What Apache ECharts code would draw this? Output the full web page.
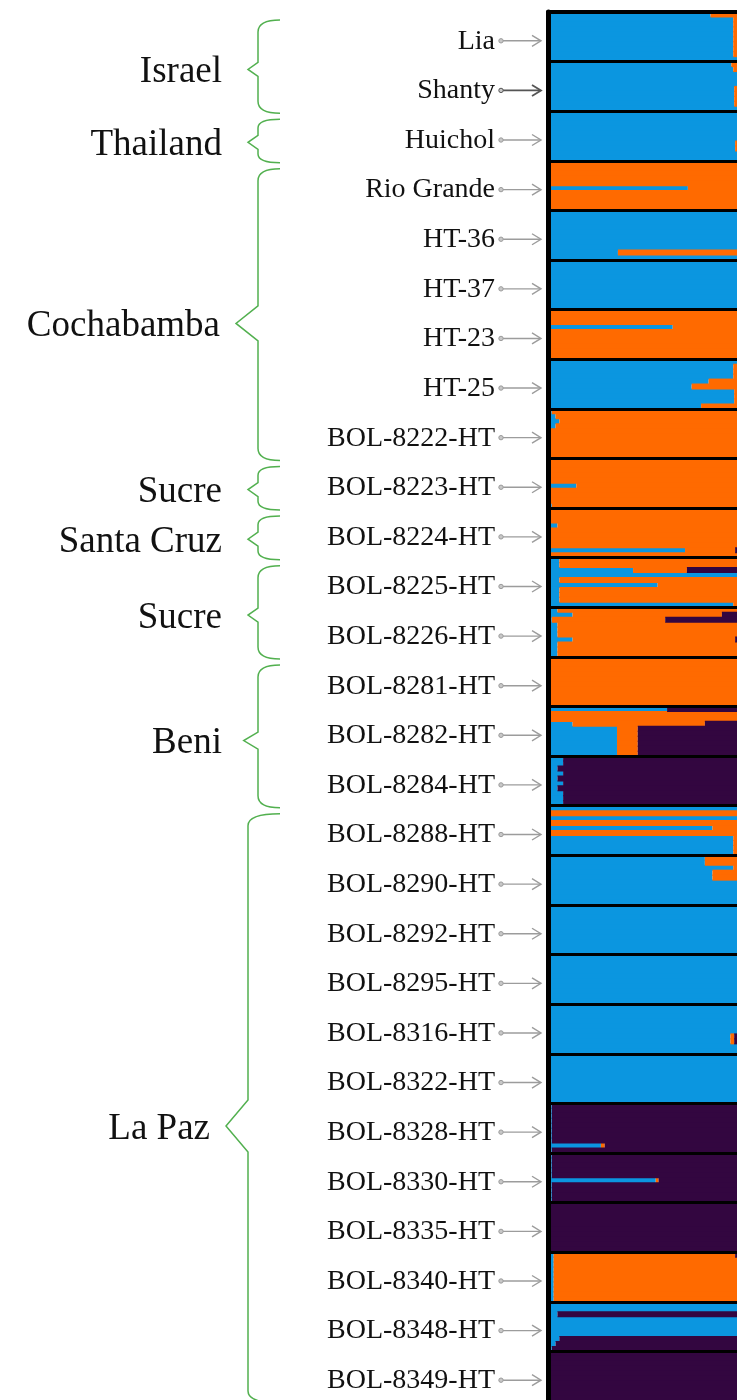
<!DOCTYPE html>
<html><head><meta charset="utf-8">
<script src="https://cdn.jsdelivr.net/npm/echarts@6/dist/echarts.min.js"></script>
<style>html,body{margin:0;padding:0;background:#fff}#c{width:737px;height:1400px}</style>
</head><body><div id="c"></div>
<script>
// ---- data ----
const genotypes = ['Lia','Shanty','Huichol','Rio Grande','HT-36','HT-37','HT-23','HT-25',
  'BOL-8222-HT','BOL-8223-HT','BOL-8224-HT','BOL-8225-HT','BOL-8226-HT','BOL-8281-HT',
  'BOL-8282-HT','BOL-8284-HT','BOL-8288-HT','BOL-8290-HT','BOL-8292-HT','BOL-8295-HT',
  'BOL-8316-HT','BOL-8322-HT','BOL-8328-HT','BOL-8330-HT','BOL-8335-HT','BOL-8340-HT',
  'BOL-8348-HT','BOL-8349-HT'];
const regions = ['Israel','Thailand','Cochabamba','Sucre','Santa Cruz','Sucre','Beni','La Paz'];
const regionStart = [0,2,3,9,10,11,13,16];
const regionEnd   = [1,2,8,9,10,12,15,27];

// membership shares (visible part of each bar), 10 individuals per genotype
const blue = [
  [.86,.98,.98,.98,.98,.98,.98,.98,.98,1],
  [.97,.98,1,1,1,.985,.985,.985,.985,1],
  [1,1,1,1,1,1,.99,.99,1,1],
  [.01,.01,.01,.01,.01,.74,.01,.01,.01,.01],
  [1,1,1,1,1,1,1,1,.37,1],
  [1,1,1,1,1,1,1,1,1,1],
  [0,0,0,.66,0,0,0,0,0,0],
  [1,.98,.98,.98,.85,.76,.985,.985,.985,.81],
  [.02,.04,.06,.04,.015,.015,.015,.015,.015,.015],
  [.015,.015,.015,.015,.015,.15,.015,.015,.015,.02],
  [.015,.015,.015,.05,.015,.015,.015,.015,.725,.015],
  [.06,.06,.45,1,.06,.58,.06,.06,.06,.98],
  [.05,.13,.02,.05,.05,.05,.13,.05,.05,.05],
  [.01,.01,.01,.01,.01,.01,.01,.01,.01,.01],
  [.63,.01,.01,.13,.365,.365,.365,.365,.365,.365],
  [.08,.08,.05,.08,.05,.08,.05,.08,.08,.08],
  [1,0,1,0,.87,0,.98,.98,.98,.98],
  [.83,.83,.98,.87,.87,1,1,1,1,1],
  [1,1,1,1,1,1,1,1,1,1],
  [1,1,1,1,1,1,1,1,1,1],
  [1,1,1,1,1,1,.965,.965,1,1],
  [1,1,1,1,1,1,1,1,1,1],
  [.02,.02,.02,.02,.02,.02,.02,.02,.28,.02],
  [.02,.02,.02,.02,.02,.57,.02,.02,.02,.02],
  [.01,.01,.01,.01,.01,.01,.01,.01,.01,.01],
  [.03,.03,.03,.03,.03,.03,.03,.03,.03,.03],
  [1,1,.05,1,1,1,1,.06,.04,.02],
  [0,0,0,0,0,0,0,0,0,0]
];
const orange = [
  [.14,.02,.02,.02,.02,.02,.02,.02,.02,0],
  [.03,.02,0,0,0,.015,.015,.015,.015,0],
  [0,0,0,0,0,0,.01,.01,0,0],
  [.99,.99,.99,.99,.99,.26,.99,.99,.99,.99],
  [0,0,0,0,0,0,0,0,.63,0],
  [0,0,0,0,0,0,0,0,0,0],
  [1,1,1,.34,1,1,1,1,1,1],
  [0,.02,.02,.02,.15,.24,.015,.015,.015,.19],
  [.98,.96,.94,.96,.985,.985,.985,.985,.985,.985],
  [.985,.985,.985,.985,.985,.85,.985,.985,.985,.98],
  [.985,.985,.985,.95,.985,.985,.985,.985,.265,.985],
  [.94,.94,.285,0,.94,.42,.94,.94,.94,.02],
  [.95,.79,.60,.95,.95,.95,.86,.95,.95,.95],
  [.99,.99,.99,.99,.99,.99,.99,.99,.99,.99],
  [0,.99,.99,.70,.11,.11,.11,.11,.11,.11],
  [0,0,0,0,0,0,0,0,0,0],
  [0,1,0,1,.13,1,.02,.02,.02,.02],
  [.17,.17,.02,.13,.13,0,0,0,0,0],
  [0,0,0,0,0,0,0,0,0,0],
  [0,0,0,0,0,0,0,0,0,0],
  [0,0,0,0,0,0,.02,.02,0,0],
  [0,0,0,0,0,0,0,0,0,0],
  [0,0,0,0,0,0,0,0,.02,0],
  [0,0,0,0,0,.015,0,0,0,0],
  [0,0,0,0,0,0,0,0,0,0],
  [.96,.97,.97,.97,.97,.97,.97,.97,.97,.97],
  [0,0,0,0,0,0,0,0,0,0],
  [0,0,0,0,0,0,0,0,0,0]
];
const purple = [
  [0,0,0,0,0,0,0,0,0,0],
  [0,0,0,0,0,0,0,0,0,0],
  [0,0,0,0,0,0,0,0,0,0],
  [0,0,0,0,0,0,0,0,0,0],
  [0,0,0,0,0,0,0,0,0,0],
  [0,0,0,0,0,0,0,0,0,0],
  [0,0,0,0,0,0,0,0,0,0],
  [0,0,0,0,0,0,0,0,0,0],
  [0,0,0,0,0,0,0,0,0,0],
  [0,0,0,0,0,0,0,0,0,0],
  [0,0,0,0,0,0,0,0,.01,0],
  [0,0,.265,0,0,0,0,0,0,0],
  [0,.08,.38,0,0,0,.01,0,0,0],
  [0,0,0,0,0,0,0,0,0,0],
  [.37,0,0,.17,.525,.525,.525,.525,.525,.525],
  [.92,.92,.95,.92,.95,.92,.95,.92,.92,.92],
  [0,0,0,0,0,0,0,0,0,0],
  [0,0,0,0,0,0,0,0,0,0],
  [0,0,0,0,0,0,0,0,0,0],
  [0,0,0,0,0,0,0,0,0,0],
  [0,0,0,0,0,0,.015,.015,0,0],
  [0,0,0,0,0,0,0,0,0,0],
  [.98,.98,.98,.98,.98,.98,.98,.98,.70,.98],
  [.98,.98,.98,.98,.98,.415,.98,.98,.98,.98],
  [.99,.99,.99,.99,.99,.99,.99,.99,.99,.99],
  [.01,0,0,0,0,0,0,0,0,0],
  [0,0,.95,0,0,0,0,.94,.96,.98],
  [1,1,1,1,1,1,1,1,1,1]
];

// ---- styles ----
const C_BLUE = '#0b96e0', C_ORANGE = '#ff6a00', C_PURPLE = '#330640';
const SERIF = '"Liberation Serif","Times New Roman",serif';
const BRACE = '#52b04f';

const individuals = [];
genotypes.forEach((g, i) => blue[i].forEach((_, k) => individuals.push(g + '#' + k)));
const toData = arr => arr.flat().map(v => v > 0 ? v : '-');

function barSeries(name, arr, color) {
  return {
    type: 'bar', name, stack: 'q', data: toData(arr),
    xAxisIndex: 0, yAxisIndex: 0, barWidth: 6, barCategoryGap: 0,
    itemStyle: { color, borderWidth: 0 },
    silent: true, animation: false
  };
}

const chart = echarts.init(document.getElementById('c'));
chart.setOption({
  animation: false,
  backgroundColor: '#fff',
  grid: { left: 548, right: 0, top: 12, height: 1389, containLabel: false, outerBoundsMode: 'none' },
  xAxis: {
    type: 'value', min: 0, max: 1, position: 'top', z: 10,
    axisLine: { show: true, lineStyle: { color: '#000', width: 4 } },
    axisTick: { show: false }, axisLabel: { show: false }, splitLine: { show: false }
  },
  yAxis: [
    { type: 'category', data: individuals, inverse: true, show: false },
    {
      type: 'category', data: genotypes, inverse: true, position: 'left', z: 10,
      axisLine: { show: true, onZero: false, lineStyle: { color: '#000', width: 5 } },
      axisTick: { show: false },
      splitLine: { show: true, interval: 0, lineStyle: { color: '#000', width: 3 } },
      axisLabel: { interval: 0, margin: 53, fontFamily: SERIF, fontSize: 28, color: '#111',
                   verticalAlign: 'top', lineHeight: 9 }
    }
  ],
  series: [
    barSeries('K1', blue, C_BLUE),
    barSeries('K2', orange, C_ORANGE),
    barSeries('K3', purple, C_PURPLE),
    {
      type: 'custom', coordinateSystem: 'cartesian2d', xAxisIndex: 0, yAxisIndex: 1,
      clip: false, silent: true, z: 5,
      data: genotypes.map((g, i) => [0, i]),
      renderItem: (params, api) => {
        const p = api.coord([0, api.value(1)]);
        const x0 = p[0], y = p[1] + 4;
        const dark = params.dataIndex === 1;
        const col = dark ? '#555' : '#9c9c9c';
        const lw = dark ? 1.8 : 1.4;
        return { type: 'group', children: [
          { type: 'line', shape: { x1: x0 - 45, y1: y, x2: x0 - 8, y2: y }, style: { stroke: col, lineWidth: lw } },
          { type: 'polyline', shape: { points: [[x0 - 16, y - 5.5], [x0 - 7, y], [x0 - 16, y + 5.5]] }, style: { stroke: col, lineWidth: lw, fill: null } },
          { type: 'circle', shape: { cx: x0 - 47, cy: y, r: 2.2 }, style: { fill: '#c8c8c8', stroke: col, lineWidth: 1 } }
        ]};
      }
    },
    {
      type: 'custom', coordinateSystem: 'cartesian2d', xAxisIndex: 0, yAxisIndex: 1,
      clip: false, silent: true, z: 5,
      data: regions.map((r, i) => [0, regionStart[i], regionEnd[i]]),
      renderItem: (params, api) => {
        const a = api.coord([0, api.value(1)]);
        const b = api.coord([0, api.value(2)]);
        const band = api.size([0, 1])[1];
        const gx = a[0];
        const yT = a[1] - band / 2 + 8, yB = b[1] + band / 2 + 2;
        const h = yB - yT;
        const xh = gx - 268;
        const xv = h > 400 ? gx - 300 : gx - 290;
        const depth = Math.max(10, Math.min(22, h * 0.1));
        const xt = xv - depth;
        const yM = yT + h * 0.53;
        const d = Math.max(7, Math.min(26, h * 0.06));
        const r = Math.min(12, h / 5);
        const path = `M${xh},${yT} Q${xv},${yT} ${xv},${yT + r} L${xv},${yM - d} L${xt},${yM} L${xv},${yM + d} L${xv},${yB - r} Q${xv},${yB} ${xh},${yB}`;
        return { type: 'group', children: [
          { type: 'path', shape: { pathData: path }, style: { stroke: BRACE, lineWidth: 1.5, fill: null } },
          { type: 'text', style: { text: regions[params.dataIndex], x: Math.min(xt - 16, gx - 326), y: yM + 3,
              align: 'right', verticalAlign: 'middle', fontFamily: SERIF, fontSize: 37, fill: '#111' } }
        ]};
      }
    }
  ]
});
</script></body></html>
